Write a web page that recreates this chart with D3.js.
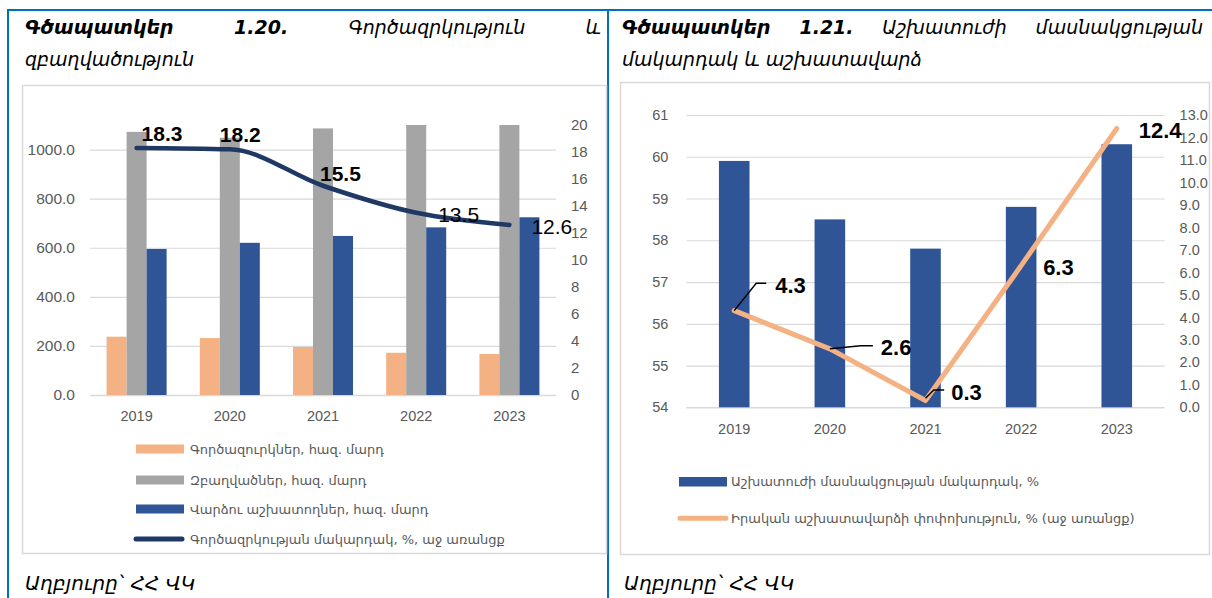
<!DOCTYPE html>
<html>
<head>
<meta charset="utf-8">
<script src="https://cdn.jsdelivr.net/npm/d3@7"></script>
<style>
  body { margin: 0; background: #fff; }
  svg { display: block; }
</style>
</head>
<body>
<svg id="page" width="1212" height="598"></svg>
<script>
// ---- data ----
const years = ["2019", "2020", "2021", "2022", "2023"];

// Figure 1.20: thousand persons (left axis), rate in % (right axis)
const unemployed = [237.5, 232, 195.5, 172, 167];
const employed = [1072, 1048, 1086, 1118, 1135];
const hiredWorkers = [595, 620, 648, 683, 724];
const unemploymentRate = [18.3, 18.2, 15.5, 13.5, 12.6];
const leftTicksA = [0, 200, 400, 600, 800, 1000];
const rightTicksA = [0, 2, 4, 6, 8, 10, 12, 14, 16, 18, 20];
const legendA = [
  "Գործազուրկներ, հազ. մարդ",
  "Զբաղվածներ, հազ. մարդ",
  "Վարձու աշխատողներ, հազ. մարդ",
  "Գործազրկության մակարդակ, %, աջ առանցք"
];

// Figure 1.21: participation rate in % (left), real wage change in % (right)
const participationRate = [59.9, 58.5, 57.8, 58.8, 60.3];
const realWageChange = [4.3, 2.6, 0.3, 6.3, 12.4];
const leftTicksB = [54, 55, 56, 57, 58, 59, 60, 61];
const rightTicksB = [0, 1, 2, 3, 4, 5, 6, 7, 8, 9, 10, 11, 12, 13];
const legendB = [
  "Աշխատուժի մասնակցության մակարդակ, %",
  "Իրական աշխատավարձի փոփոխություն, % (աջ առանցք)"
];

const titleA = { bold: ["Գծապատկեր", "1.20."], rest: ["Գործազրկություն", "և"], line2: "զբաղվածություն" };
const titleB = { bold: ["Գծապատկեր", "1.21."], rest: ["Աշխատուժի", "մասնակցության"], line2: "մակարդակ և աշխատավարձ" };
const sourceText = ["Աղբյուրը՝", "ՀՀ ՎԿ"];

// ---- styles ----
const C = {
  orange: "#F4B183", grey: "#A5A5A5", blue: "#2F5597", navy: "#203864",
  grid: "#D9D9D9", tick: "#595959", frame: "#0070C0"
};
const NUM = "'Liberation Sans', Arial, sans-serif";
const ARM = "'DejaVu Sans', sans-serif";

const svg = d3.select("#page");

// ---- page frame ----
svg.append("line").attr("x1", 7).attr("x2", 1212).attr("y1", 10).attr("y2", 10)
  .attr("stroke", C.frame).attr("stroke-width", 2);
[8, 608].forEach(x => svg.append("line").attr("x1", x).attr("x2", x)
  .attr("y1", 9).attr("y2", 598).attr("stroke", C.frame).attr("stroke-width", 2));

// chart boxes
svg.append("rect").attr("x", 22.5).attr("y", 85.5).attr("width", 584).attr("height", 468)
  .attr("fill", "none").attr("stroke", C.grid).attr("stroke-width", 1.5);
svg.append("rect").attr("x", 620.5).attr("y", 82.5).attr("width", 589).attr("height", 472)
  .attr("fill", "none").attr("stroke", C.grid).attr("stroke-width", 1.5);

// ---- titles (first line justified, second line left) ----
function drawTitle(t, x0, x1, y1, y2) {
  const words = t.bold.map(w => ({ w, b: true })).concat(t.rest.map(w => ({ w, b: false })));
  const nodes = words.map(d => svg.append("text")
    .attr("y", y1).attr("font-family", ARM).attr("font-style", "italic")
    .attr("font-weight", d.b ? "bold" : "normal").attr("font-size", 19)
    .attr("fill", "#000").text(d.w));
  const widths = nodes.map(n => n.node().getComputedTextLength());
  const gap = (x1 - x0 - d3.sum(widths)) / (nodes.length - 1);
  let x = x0;
  nodes.forEach((n, i) => { n.attr("x", x); x += widths[i] + gap; });
  svg.append("text").attr("x", x0).attr("y", y2).attr("font-family", ARM)
    .attr("font-style", "italic").attr("font-size", 19).attr("fill", "#000").text(t.line2);
}
drawTitle(titleA, 25, 601, 34, 66);
drawTitle(titleB, 622, 1203, 34, 66);

// source lines
[25, 624].forEach(x => {
  const t = svg.append("text").attr("x", x).attr("y", 590)
    .attr("font-family", ARM).attr("font-style", "italic").attr("font-size", 20)
    .attr("fill", "#000");
  t.append("tspan").text(sourceText[0]);
  t.append("tspan").attr("dx", 8).text(sourceText[1]);
});

// ================= Figure 1.20 =================
{
  const g = svg.append("g");
  const x = d3.scaleBand().domain(years).range([90, 556]).paddingInner(0.356).paddingOuter(0.178);
  const xs = d3.scaleBand().domain([0, 1, 2]).range([0, x.bandwidth()]);
  const yL = d3.scaleLinear().domain([0, 1100]).range([395, 125]);
  const yR = d3.scaleLinear().domain([0, 20]).range([395, 125]);

  g.append("clipPath").attr("id", "clipA").append("rect")
    .attr("x", 90).attr("y", 125).attr("width", 466).attr("height", 271);

  // gridlines
  g.selectAll(".gridA").data(leftTicksA).join("line")
    .attr("x1", 90).attr("x2", 556).attr("y1", d => yL(d) + 0.5).attr("y2", d => yL(d) + 0.5)
    .attr("stroke", C.grid).attr("stroke-width", d => d === 0 ? 1.5 : 1.2);

  // left axis
  const axL = g.append("g").attr("transform", "translate(90,0)")
    .call(d3.axisLeft(yL).tickValues(leftTicksA).tickFormat(d3.format(".1f")).tickSize(0).tickPadding(15));
  axL.select(".domain").remove();
  axL.selectAll("text").attr("font-family", NUM).attr("font-size", 15.5).attr("fill", C.tick);

  // right axis
  const axR = g.append("g").attr("transform", "translate(556,0)")
    .call(d3.axisRight(yR).tickValues(rightTicksA).tickFormat(d3.format("d")).tickSize(0).tickPadding(15));
  axR.select(".domain").remove();
  axR.selectAll("text").attr("font-family", NUM).attr("font-size", 15).attr("fill", C.tick);

  // category axis
  const axX = g.append("g").attr("transform", "translate(0,395)")
    .call(d3.axisBottom(x).tickSize(0).tickPadding(16));
  axX.select(".domain").remove();
  axX.selectAll("text").attr("font-family", NUM).attr("font-size", 14.5).attr("fill", C.tick);

  // bars
  const series = [unemployed, employed, hiredWorkers];
  const colors = [C.orange, C.grey, C.blue];
  const bars = g.append("g").attr("clip-path", "url(#clipA)");
  series.forEach((vals, si) => {
    bars.selectAll(".s" + si).data(vals).join("rect")
      .attr("x", (d, i) => x(years[i]) + xs(si))
      .attr("width", xs.bandwidth())
      .attr("y", d => yL(d))
      .attr("height", d => yL(0) - yL(d))
      .attr("fill", colors[si]);
  });

  // unemployment rate line (smoothed)
  const cx = i => x(years[i]) + x.bandwidth() / 2;
  g.append("path").datum(unemploymentRate)
    .attr("d", d3.line().x((d, i) => cx(i)).y(d => yR(d)).curve(d3.curveMonotoneX))
    .attr("fill", "none").attr("stroke", C.navy).attr("stroke-width", 4.5)
    .attr("stroke-linecap", "round");

  // value labels
  const labelPos = [[5, -15, true], [-10, -15, true], [-3, -12.5, true], [22, 2, false], [22, 2, false]];
  g.selectAll(".lblA").data(unemploymentRate).join("text")
    .attr("x", (d, i) => cx(i) + labelPos[i][0])
    .attr("y", (d, i) => yR(d) + labelPos[i][1])
    .attr("dy", "0.36em")
    .attr("font-family", NUM).attr("font-size", 21)
    .attr("font-weight", (d, i) => labelPos[i][2] ? "bold" : "normal")
    .attr("fill", "#000").text(d => d3.format(".1f")(d));

  // legend
  const rows = [449, 480, 509, 539];
  legendA.forEach((name, i) => {
    if (i < 3) {
      g.append("rect").attr("x", 136).attr("y", rows[i] - 4.5).attr("width", 48).attr("height", 9)
        .attr("fill", colors[i]);
    } else {
      g.append("line").attr("x1", 136).attr("x2", 182).attr("y1", rows[i]).attr("y2", rows[i])
        .attr("stroke", C.navy).attr("stroke-width", 5).attr("stroke-linecap", "round");
    }
    g.append("text").attr("x", 190).attr("y", rows[i]).attr("dy", "0.35em")
      .attr("font-family", ARM).attr("font-size", 13).attr("fill", C.tick).text(name);
  });
}

// ================= Figure 1.21 =================
{
  const g = svg.append("g");
  const x = d3.scaleBand().domain(years).range([686.4, 1164.6]).paddingInner(0.68).paddingOuter(0.34);
  const yL = d3.scaleLinear().domain([54, 61]).range([407.3, 115]);
  const yR = d3.scaleLinear().domain([0, 13]).range([407.3, 115]);

  g.selectAll(".gridB").data(leftTicksB).join("line")
    .attr("x1", 686.4).attr("x2", 1164.6).attr("y1", d => yL(d) + 0.5).attr("y2", d => yL(d) + 0.5)
    .attr("stroke", C.grid).attr("stroke-width", d => d === 54 ? 1.5 : 1.2);

  const axL = g.append("g").attr("transform", "translate(686.4,0)")
    .call(d3.axisLeft(yL).tickValues(leftTicksB).tickFormat(d3.format("d")).tickSize(0).tickPadding(18));
  axL.select(".domain").remove();
  axL.selectAll("text").attr("font-family", NUM).attr("font-size", 14.5).attr("fill", C.tick);

  const axR = g.append("g").attr("transform", "translate(1164.6,0)")
    .call(d3.axisRight(yR).tickValues(rightTicksB).tickFormat(d3.format(".1f")).tickSize(0).tickPadding(15));
  axR.select(".domain").remove();
  axR.selectAll("text").attr("font-family", NUM).attr("font-size", 14.5).attr("fill", C.tick);

  const axX = g.append("g").attr("transform", "translate(0,407.3)")
    .call(d3.axisBottom(x).tickSize(0).tickPadding(16));
  axX.select(".domain").remove();
  axX.selectAll("text").attr("font-family", NUM).attr("font-size", 14.5).attr("fill", C.tick);

  g.selectAll(".barB").data(participationRate).join("rect")
    .attr("x", (d, i) => x(years[i])).attr("width", x.bandwidth())
    .attr("y", d => yL(d)).attr("height", d => yL(54) - yL(d))
    .attr("fill", C.blue);

  const cx = i => x(years[i]) + x.bandwidth() / 2;
  g.append("path").datum(realWageChange)
    .attr("d", d3.line().x((d, i) => cx(i)).y(d => yR(d)))
    .attr("fill", "none").attr("stroke", C.orange).attr("stroke-width", 5)
    .attr("stroke-linejoin", "round").attr("stroke-linecap", "round");

  // labels: [dx of label start, dy of label centre, leader polyline offsets]
  const labelPos = [
    [41, -25.5, [[0, 0], [22, -27.3], [32, -27.3]]],
    [51, -2.2, [[0, 0], [31, -3.2], [43, -3.2]]],
    [25.7, -8, [[0, -2.3], [8.3, -10.6], [18.7, -10.6]]],
    [22, 1, null],
    [22, 1.5, null]
  ];
  realWageChange.forEach((v, i) => {
    const px = cx(i), py = yR(v), p = labelPos[i];
    if (p[2]) {
      g.append("polyline")
        .attr("points", p[2].map(o => [px + o[0], py + o[1]].join(",")).join(" "))
        .attr("fill", "none").attr("stroke", "#000").attr("stroke-width", 1.5);
    }
    g.append("text").attr("x", px + p[0]).attr("y", py + p[1]).attr("dy", "0.36em")
      .attr("font-family", NUM).attr("font-size", 22).attr("font-weight", "bold")
      .attr("fill", "#000").text(d3.format(".1f")(v));
  });

  // legend
  g.append("rect").attr("x", 679).attr("y", 477).attr("width", 48).attr("height", 9.5).attr("fill", C.blue);
  g.append("line").attr("x1", 680).attr("x2", 726).attr("y1", 518.3).attr("y2", 518.3)
    .attr("stroke", C.orange).attr("stroke-width", 5).attr("stroke-linecap", "round");
  [481.7, 518.3].forEach((y, i) => g.append("text").attr("x", 731).attr("y", y).attr("dy", "0.35em")
    .attr("font-family", ARM).attr("font-size", 13).attr("fill", C.tick).text(legendB[i]));
}
</script>
</body>
</html>
